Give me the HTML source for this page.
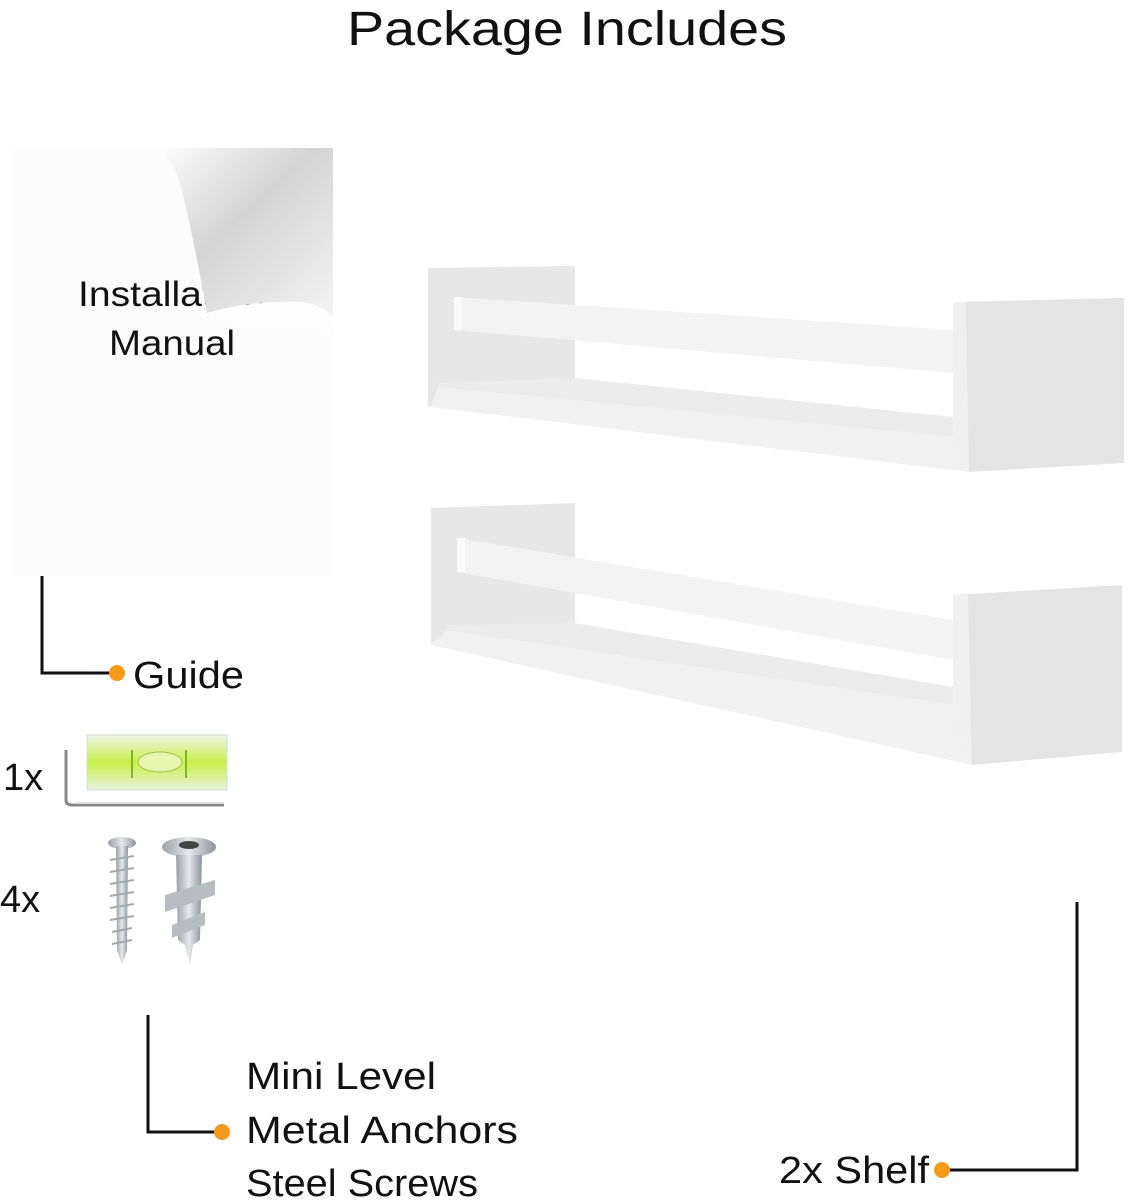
<!DOCTYPE html>
<html><head><meta charset="utf-8"><style>
html,body{margin:0;padding:0;background:#fff;}
svg{display:block;}
text{font-family:"Liberation Sans","DejaVu Sans",sans-serif;fill:#111;}
</style></head><body>
<svg width="1144" height="1200" viewBox="0 0 1144 1200" xmlns="http://www.w3.org/2000/svg">
<defs>
<linearGradient id="curl" x1="0" y1="0" x2="1" y2="1">
<stop offset="0" stop-color="#ffffff"/><stop offset="0.45" stop-color="#d4d4d4"/><stop offset="1" stop-color="#f4f4f4"/>
</linearGradient>
<linearGradient id="lvl" x1="0" y1="0" x2="0" y2="1">
<stop offset="0" stop-color="#eef5e8"/><stop offset="0.5" stop-color="#c8f04a"/><stop offset="1" stop-color="#e9f2e0"/>
</linearGradient>
<linearGradient id="metal" x1="0" y1="0" x2="1" y2="0">
<stop offset="0" stop-color="#9aa0a6"/><stop offset="0.5" stop-color="#e6e9ec"/><stop offset="1" stop-color="#8d939a"/>
</linearGradient>
</defs>

<text x="347" y="45" font-size="48" textLength="440" lengthAdjust="spacingAndGlyphs">Package Includes</text>

<!-- manual -->
<rect x="11" y="148" width="322" height="428" fill="#fcfcfc"/>
<text x="78" y="306" font-size="35" textLength="187" lengthAdjust="spacingAndGlyphs">Installation</text>
<text x="109" y="355" font-size="35" textLength="126" lengthAdjust="spacingAndGlyphs">Manual</text>
<path d="M150,148 Q172,152 182,190 Q196,250 207,313 Q250,300 300,302 Q325,305 333,318 L333,148 Z" fill="url(#curl)"/>
<path d="M207,313 Q255,300 300,302 Q322,305 333,318 L333,332 Q300,318 240,322 Z" fill="#fdfdfd"/>

<!-- shelf 1 -->
<polygon points="428,268 575,266 575,390 428,407" fill="#e7e7e7"/>
<polygon points="575,330 953,373 953,417 575,378" fill="#ffffff"/>
<polygon points="438,383 575,378 953,417 953,437 438,387" fill="#ececec"/>
<polygon points="431,407 438,387 953,437 969,472" fill="#f1f1f1"/>
<polygon points="454,297 953,330 953,373 454,330" fill="#f3f3f3"/>
<polygon points="454,297 462,297 462,330 454,330" fill="#fafafa"/>
<polygon points="953,302 1124,298 1124,463 969,472" fill="#e4e4e4"/>
<polygon points="953,302 966,302 969,472 953,440" fill="#f0f0f0"/>

<!-- shelf 2 -->
<polygon points="431,508 575,503 575,630 431,645" fill="#e7e7e7"/>
<polygon points="575,594 953,660 953,687 575,623" fill="#ffffff"/>
<polygon points="447,625 575,623 953,687 953,705 447,630" fill="#ececec"/>
<polygon points="431,645 447,630 953,705 972,765" fill="#f1f1f1"/>
<polygon points="457,538 953,620 953,660 457,572" fill="#f3f3f3"/>
<polygon points="457,538 465,538 465,572 457,572" fill="#fafafa"/>
<polygon points="953,595 1122,585 1122,752 972,765" fill="#e4e4e4"/>
<polygon points="953,595 968,595 972,765 953,720" fill="#f0f0f0"/>

<!-- Guide connector -->
<path d="M42,576 V673 H117" stroke="#111" stroke-width="3" fill="none"/>
<circle cx="117" cy="673" r="8" fill="#f39a1a"/>
<text x="133" y="688" font-size="38" textLength="111" lengthAdjust="spacingAndGlyphs">Guide</text>

<!-- level & key -->
<text x="3" y="790" font-size="38">1x</text>
<rect x="87" y="735" width="140" height="55" fill="url(#lvl)" stroke="#d6ddd2"/>
<ellipse cx="160" cy="762" rx="22" ry="10" fill="#e8f7b0" stroke="#9fc24a"/>
<line x1="132" y1="750" x2="132" y2="778" stroke="#7fb52a" stroke-width="2"/>
<line x1="186" y1="750" x2="186" y2="778" stroke="#7fb52a" stroke-width="2"/>
<path d="M66,750 V800 Q66,805 72,805 H224" stroke="#888" stroke-width="3" fill="none"/>
<line x1="76" y1="803" x2="224" y2="803" stroke="#ddd" stroke-width="2"/>

<!-- screws -->
<text x="0" y="912" font-size="38">4x</text>
<ellipse cx="122" cy="843" rx="14" ry="6" fill="url(#metal)"/>
<polygon points="116,846 128,846 127,950 122,965 117,950" fill="url(#metal)"/>
<g stroke="#a3a9b0" stroke-width="2">
<line x1="110" y1="860" x2="134" y2="856"/><line x1="110" y1="872" x2="134" y2="868"/>
<line x1="110" y1="884" x2="134" y2="880"/><line x1="110" y1="896" x2="134" y2="892"/>
<line x1="110" y1="908" x2="134" y2="904"/><line x1="110" y1="920" x2="134" y2="916"/>
<line x1="112" y1="932" x2="132" y2="928"/><line x1="112" y1="944" x2="132" y2="940"/>
</g>
<ellipse cx="189" cy="847" rx="27" ry="10" fill="url(#metal)"/>
<ellipse cx="189" cy="845" rx="10" ry="4" fill="#444"/>
<polygon points="176,855 202,855 200,940 193,945 190,965 185,945 178,940" fill="url(#metal)"/>
<polygon points="165,895 215,880 215,895 165,912" fill="#b8bdc2"/>
<polygon points="172,925 205,912 205,925 172,938" fill="#b8bdc2"/>

<!-- small parts connector -->
<path d="M148,1015 V1132 H222" stroke="#111" stroke-width="3" fill="none"/>
<circle cx="222" cy="1132" r="8" fill="#f39a1a"/>
<text x="246" y="1089" font-size="38" textLength="190" lengthAdjust="spacingAndGlyphs">Mini Level</text>
<text x="246" y="1143" font-size="38" textLength="272" lengthAdjust="spacingAndGlyphs">Metal Anchors</text>
<text x="246" y="1196" font-size="38" textLength="232" lengthAdjust="spacingAndGlyphs">Steel Screws</text>

<!-- shelf connector -->
<path d="M1077,902 V1170 H942" stroke="#111" stroke-width="3" fill="none"/>
<circle cx="942" cy="1170" r="8" fill="#f39a1a"/>
<text x="779" y="1183" font-size="38" textLength="150" lengthAdjust="spacingAndGlyphs">2x Shelf</text>
</svg>
</body></html>
